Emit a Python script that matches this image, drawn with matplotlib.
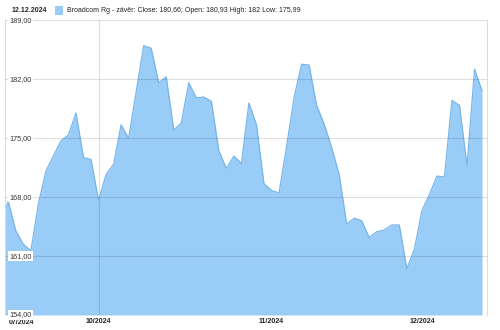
import matplotlib
matplotlib.use("Agg")
import matplotlib.pyplot as plt
import matplotlib.transforms as mtransforms
import numpy as np

# closing prices, one per trading day (first value sits just left of the visible window)
CLOSE = [
    165.0, 167.5, 164.0, 162.4, 161.6, 167.2, 171.1, 172.9, 174.7, 175.4,
    178.0, 172.7, 172.5, 167.6, 170.7, 171.9, 176.6, 175.0, 180.5, 186.0,
    185.7, 181.6, 182.3, 176.0, 176.8, 181.6, 179.8, 179.9, 179.4, 173.5,
    171.4, 172.9, 172.0, 179.2, 176.6, 169.6, 168.8, 168.5, 174.0, 179.8,
    183.8, 183.7, 178.9, 176.7, 173.9, 170.7, 164.8, 165.5, 165.2, 163.2,
    163.9, 164.1, 164.7, 164.7, 159.5, 161.8, 166.4, 168.3, 170.5, 170.4,
    179.5, 178.9, 171.7, 183.2, 180.66,
]
MONTH_TICKS = [13, 36, 56]          # first trading day of the month (index into CLOSE)
MONTH_LABELS = ["10/2024", "11/2024", "12/2024"]
FIRST_LABEL = "07/2024"
Y_TICKS = [154, 161, 168, 175, 182, 189]
DATE_TEXT = "12.12.2024"
LEGEND_TEXT = "Broadcom Rg - závěr: Close: 180,66; Open: 180,93 High: 182 Low: 175,99"

FILL = "#99CCF6"
EDGE = "#78B6EA"

plt.rcParams["font.family"] = ["Liberation Sans", "DejaVu Sans"]

fig = plt.figure(figsize=(5, 3.3), dpi=100)
ax = fig.add_axes([0.01, 0.0455, 0.964, 0.8925])

x = np.arange(len(CLOSE))
ax.fill_between(x, CLOSE, Y_TICKS[0], color=FILL, lw=0, zorder=1)
ax.plot(x, CLOSE, color=EDGE, lw=0.9, zorder=2)

ax.set_xlim(0.56, len(CLOSE) - 1 + 0.66)
ax.set_ylim(Y_TICKS[0], Y_TICKS[-1])

for v in Y_TICKS:
    ax.axhline(v, color="black", alpha=0.12, lw=0.8, zorder=3)
ax.axvline(MONTH_TICKS[0], color="black", alpha=0.12, lw=0.8, zorder=3)

trans = mtransforms.blended_transform_factory(ax.transAxes, ax.transData)
for v in Y_TICKS:
    ax.text(0.009, v, f"{v:.2f}".replace(".", ","), transform=trans, fontsize=5.2,
            color="#333333", ha="left", va="center", zorder=5,
            bbox=dict(boxstyle="square,pad=0.15", fc="white", ec="none"))

ax.set_xticks(MONTH_TICKS)
ax.set_xticklabels(MONTH_LABELS, fontsize=5, fontweight="bold", color="#222222")
ax.tick_params(axis="x", length=0, pad=2.5)
ax.set_yticks([])
ax.text(0.008, -0.012, FIRST_LABEL, transform=ax.transAxes, fontsize=5,
        fontweight="bold", color="#222222", ha="left", va="top")

for side in ["top", "bottom"]:
    ax.spines[side].set_visible(False)
for side in ["left", "right"]:
    ax.spines[side].set_color("#dddddd")
    ax.spines[side].set_linewidth(0.8)

fig.text(0.024, 0.969, DATE_TEXT, fontsize=5.0, fontweight="bold", color="#222222",
         ha="left", va="center")
fig.patches.append(plt.Rectangle((0.11, 0.955), 0.016, 0.028, transform=fig.transFigure,
                                 fc=FILL, ec="none"))
fig.text(0.134, 0.969, LEGEND_TEXT, fontsize=5.0, color="#222222", ha="left", va="center")

fig.savefig("out.png", dpi=100)
